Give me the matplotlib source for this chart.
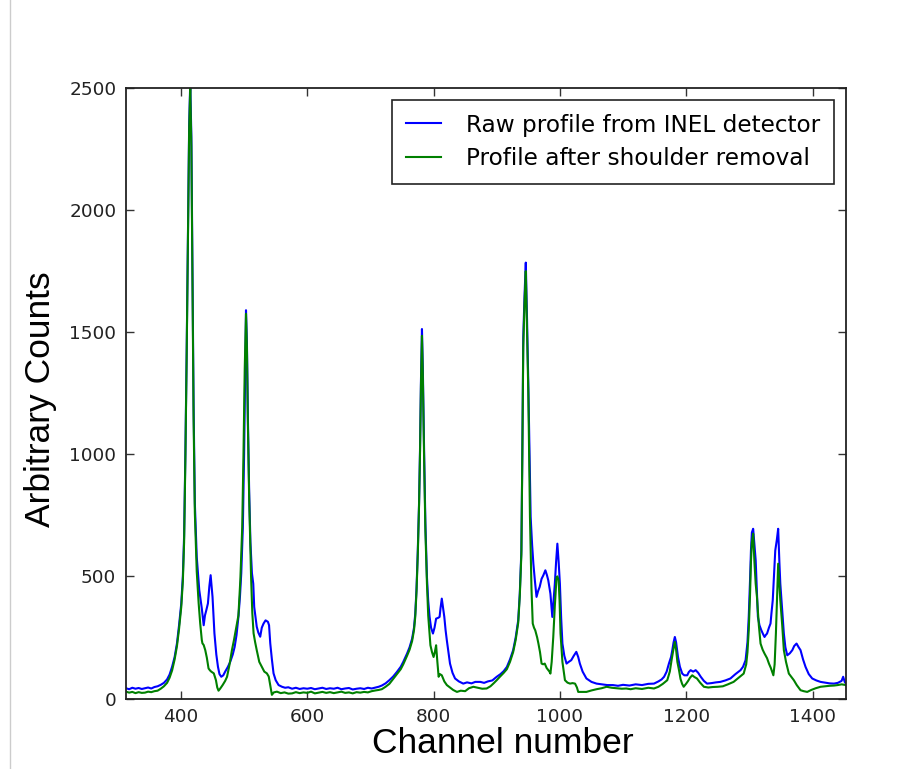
import matplotlib
matplotlib.use("Agg")
import matplotlib.pyplot as plt
from matplotlib.lines import Line2D

# ---- data ----
raw_channel = [313, 318, 323, 328, 333, 338, 343, 348, 353, 358, 363, 368, 373, 378, 382, 386, 390, 393.7, 397, 400.5,
               403, 405, 407, 409, 411, 413, 414.7, 416.5, 418.5, 420, 422, 425, 429, 433, 436, 438, 440, 442.7, 445, 447,
               450, 453, 456, 458.6, 461, 463.8, 467, 470, 474, 478, 482, 485, 488, 491, 493.5, 495.5, 498, 500, 501.5, 503,
               504.5, 506, 508, 510, 512.4, 514.5, 516, 520, 522.5, 525.5, 528, 530.8, 534, 537.7, 539.5, 541.4, 544, 546.6,
               550, 554.6, 560, 565, 570, 576, 582, 588, 594, 600, 606, 612, 618, 624, 630, 636, 642, 648, 654, 660, 666,
               672, 678, 684, 690, 696, 702, 708, 713, 718, 724, 730, 736, 742, 748, 752, 758, 762, 766, 769, 771, 773, 775,
               777, 778.5, 780, 781.6, 783, 785, 787, 789.5, 791.5, 793.7, 796, 799, 801.5, 804, 807, 809.5, 811, 813, 815,
               817, 819, 821, 823.5, 826, 830, 834, 840, 847, 853, 860, 866, 874, 880, 886, 893, 900, 906, 911, 916, 921,
               926, 930, 934, 936.5, 939, 940.5, 942, 944, 946, 948, 950, 952, 953.7, 956, 958, 960.5, 963, 965.5, 968, 971,
               973.7, 977, 979.5, 981.6, 985, 988, 990, 992, 994, 996, 998, 1000, 1002, 1004, 1007, 1010.5, 1014, 1018,
               1022, 1026, 1029, 1031.6, 1036, 1042, 1050, 1058, 1066, 1075, 1084, 1092, 1100, 1110, 1120, 1130, 1140,
               1149, 1156, 1161, 1165, 1169, 1172.6, 1176, 1178, 1180, 1182, 1184, 1187, 1190, 1193.7, 1197, 1201.6, 1204,
               1207, 1211, 1215, 1219, 1223, 1228, 1233, 1240, 1247, 1254, 1262, 1270, 1278, 1286, 1290, 1294, 1297, 1299,
               1301, 1302.5, 1304, 1306, 1308, 1310, 1312, 1313.5, 1316, 1319, 1322, 1324, 1326, 1328, 1331, 1333.5, 1335,
               1337, 1339, 1341, 1343.5, 1345.6, 1347.5, 1349, 1352, 1354.6, 1357, 1360, 1364, 1368, 1371, 1374.7, 1378,
               1381, 1385, 1389, 1394, 1399.5, 1406, 1412.7, 1420, 1427, 1434, 1440, 1446, 1448.5, 1451, 1453]
raw_counts = [42, 38, 44, 40, 43, 39, 42, 45, 41, 47, 50, 56, 64, 78, 98, 130, 170, 226, 300, 389,
              500, 666, 1000, 1407, 1900, 2350, 2520, 2300, 1700, 1200, 800, 580, 444, 369, 300, 340, 360, 389, 460, 505,
              416, 267, 180, 130, 100, 89, 95, 110, 128, 150, 180, 211, 260, 334, 420, 513, 700, 1000, 1300, 1590,
              1450, 1150, 850, 640, 513, 470, 375, 294, 270, 253, 290, 307, 320, 314, 300, 226, 160, 103,
              75, 55, 48, 44, 46, 40, 44, 39, 42, 40, 43, 38, 41, 44, 39, 42, 40, 44, 38, 41, 43,
              37, 40, 42, 39, 44, 41, 45, 48, 53, 62, 75, 90, 109, 130, 150, 184, 210, 245, 290, 347, 450, 606,
              800, 1015, 1300, 1513, 1350, 1015, 720, 497, 400, 334, 290, 266, 290, 327, 330, 334, 370, 409, 370,
              334, 280, 238, 190, 143, 105, 82, 70, 61, 66, 62, 68, 68, 64, 70, 74, 89, 100, 112, 129, 160,
              198, 250, 320, 430, 606, 1000, 1479, 1650, 1785, 1550, 1288, 980, 743, 630, 552, 480, 416, 440, 457, 490,
              504, 525, 505, 484, 429, 334, 400, 470, 560, 634, 560, 470, 330, 225, 175, 143, 150, 157,
              175, 191, 170, 143, 110, 82, 68, 61, 58, 55, 55, 52, 56, 53, 58, 55, 60,
              61, 70, 78, 89, 110, 143, 170, 198, 230, 252, 230, 170, 130, 102, 95, 95, 108,
              116, 110, 116, 105, 89, 72, 61, 63, 66, 68, 74, 82, 100, 116, 130, 157, 230, 334,
              480, 606, 680, 695, 630, 566, 430, 334, 300, 279, 262, 252, 260, 266, 290, 307, 350,
              402, 500, 606, 650, 695, 560, 470, 360, 266, 210, 177, 185, 198, 215, 225, 210,
              198, 160, 129, 100, 82, 74, 68, 65, 62, 61, 64, 72, 89, 68, 61]

clean_channel = [313, 318, 323, 328, 333, 338, 343, 348, 353, 358, 363, 368, 373, 378, 382, 386, 390, 393.7, 397, 400.5,
                 403, 405, 407, 409, 411, 413, 414.7, 416.5, 418.5, 420, 422, 425, 428, 430.5, 433, 434, 436, 438.5, 441,
                 443.7, 446, 448, 452, 455.4, 457.5, 459.5, 462, 466, 470, 473, 477, 480.7, 484, 488.6, 491, 494, 497, 499,
                 501, 503, 504.5, 506, 508, 509, 511, 513, 515, 517.5, 520, 524, 528, 532, 536, 539, 541, 544, 547, 552,
                 558, 564, 570, 576, 582, 588, 594, 600, 606, 612, 618, 624, 630, 636, 642, 648, 654, 660, 666, 672, 678,
                 684, 690, 696, 702, 708, 713, 718, 724, 730, 736, 742, 748, 752, 758, 762, 766, 769, 771, 773, 775, 777,
                 778.5, 780, 781.6, 783, 785, 787, 789.5, 791.5, 795, 797.5, 800, 802, 804, 806, 808, 810, 813, 817, 821,
                 826, 831, 837, 843, 850, 856, 863, 870, 877, 884, 890, 895, 900, 905, 911, 916, 921, 926, 930, 934, 936.5,
                 939, 940.5, 942, 944, 946, 948, 950, 952.6, 955, 957, 959, 961, 964, 966, 968.5, 971, 973.5, 976, 979,
                 981.6, 983.5, 985, 987, 989.5, 992, 994.7, 996, 998, 999.5, 1001, 1004, 1008, 1012, 1016, 1020, 1024,
                 1027, 1029, 1035, 1042, 1050, 1058, 1066, 1074, 1082, 1090, 1098, 1105, 1112, 1120, 1130, 1140, 1149,
                 1156, 1163, 1170, 1174, 1177, 1180, 1182, 1184, 1186, 1188.6, 1191, 1193.5, 1196, 1200, 1203, 1206,
                 1209.5, 1213, 1217, 1222, 1228, 1235, 1242, 1250, 1258, 1266, 1275, 1283, 1291, 1295, 1297, 1299, 1301,
                 1302.5, 1304, 1306, 1308, 1310, 1312, 1315, 1317.7, 1321, 1324, 1328, 1331, 1334, 1336, 1338, 1340, 1342,
                 1344, 1345.6, 1347.5, 1349, 1352, 1354.6, 1358, 1362.5, 1366, 1370.4, 1375, 1381, 1386, 1391.6, 1398,
                 1405, 1412.7, 1420, 1427, 1434, 1440, 1446, 1453]
clean_counts = [28, 24, 27, 22, 26, 23, 24, 28, 26, 30, 32, 40, 50, 64, 85, 115, 160, 215, 285, 375,
                480, 640, 980, 1390, 1880, 2330, 2500, 2260, 1650, 1150, 760, 520, 391, 307, 240, 226, 219, 198, 167,
                123, 115, 110, 103, 75, 45, 32, 40, 55, 72, 89, 140, 198, 240, 307, 340, 484, 700, 1000,
                1350, 1575, 1430, 1120, 820, 718, 500, 350, 267, 230, 198, 150, 130, 110, 103, 90, 60, 15, 25, 28,
                22, 25, 20, 21, 26, 22, 25, 23, 28, 21, 24, 27, 23, 26, 22, 25, 28, 23, 25, 21, 26,
                24, 27, 25, 30, 33, 35, 38, 48, 60, 80, 100, 120, 140, 175, 200, 235, 280, 335, 440, 590, 790,
                1000, 1280, 1485, 1320, 980, 690, 470, 340, 218, 190, 170, 190, 218, 150, 89, 100, 95, 70, 55,
                45, 35, 27, 32, 30, 42, 48, 44, 40, 41, 50, 62, 75, 89, 105, 120, 150, 190, 240, 310, 420,
                590, 990, 1440, 1620, 1750, 1500, 1250, 743, 450, 307, 290, 279, 250, 225, 190, 143, 140, 143, 125,
                116, 110, 102, 150, 252, 380, 497, 500, 484, 400, 266, 150, 75, 65, 61, 63, 61,
                45, 27, 27, 27, 33, 38, 42, 48, 44, 42, 40, 41, 38, 42, 39, 44, 41,
                48, 60, 75, 110, 160, 205, 232, 200, 150, 116, 80, 60, 48, 61, 72, 85,
                95, 88, 82, 65, 48, 45, 47, 48, 50, 58, 68, 85, 102, 140, 190, 279, 420,
                560, 640, 675, 560, 470, 416, 300, 225, 200, 184, 165, 143, 125, 110, 95, 140, 266,
                430, 552, 470, 402, 300, 198, 150, 102, 90, 75, 55, 34, 30, 27, 35,
                42, 48, 50, 52, 53, 55, 58, 55]

series_labels = ["Raw profile from INEL detector", "Profile after shoulder removal"]
x_ticks = [400, 600, 800, 1000, 1200, 1400]
y_ticks = [0, 500, 1000, 1500, 2000, 2500]

# ---- figure ----
W, H = 923, 769
fig = plt.figure(figsize=(W / 100, H / 100), dpi=100)
ax = fig.add_axes([126 / W, 1 - 698.5 / H, (846 - 126) / W, (698.5 - 88) / H])

ax.plot(raw_channel, raw_counts, color="#0000ff", lw=1.5, label=series_labels[0])
ax.plot(clean_channel, clean_counts, color="#008000", lw=1.5, label=series_labels[1])

ax.set_xlim(313, 1453)
ax.set_ylim(0, 2500)
ax.set_xticks(x_ticks)
ax.set_yticks(y_ticks)
ax.tick_params(direction="in", top=True, right=True, length=6, width=1,
               labelsize=13.3, pad=7, color="#333333", labelcolor="#222222")
for s in ax.spines.values():
    s.set_linewidth(1.3)
    s.set_color("#222222")

ax.set_xlabel("Channel number", family="Liberation Sans", fontsize=25.5)
ax.set_ylabel("Arbitrary Counts", family="Liberation Sans", fontsize=25.5)
ax.xaxis.set_label_coords(0.5 + 17 / 720, -0.046)
ax.yaxis.set_label_coords(-0.096, 0.49)

leg = ax.legend(loc="upper right", fontsize=16.7, fancybox=False, framealpha=1,
                edgecolor="#222222", handlelength=1.5, handletextpad=1.1,
                borderpad=0.6, labelspacing=0.45, borderaxespad=0.5)
leg.get_frame().set_linewidth(1.2)

fig.add_artist(Line2D([10 / W, 10 / W], [0, 1], color="#cccccc", lw=1))

fig.savefig("out.png", dpi=100)
